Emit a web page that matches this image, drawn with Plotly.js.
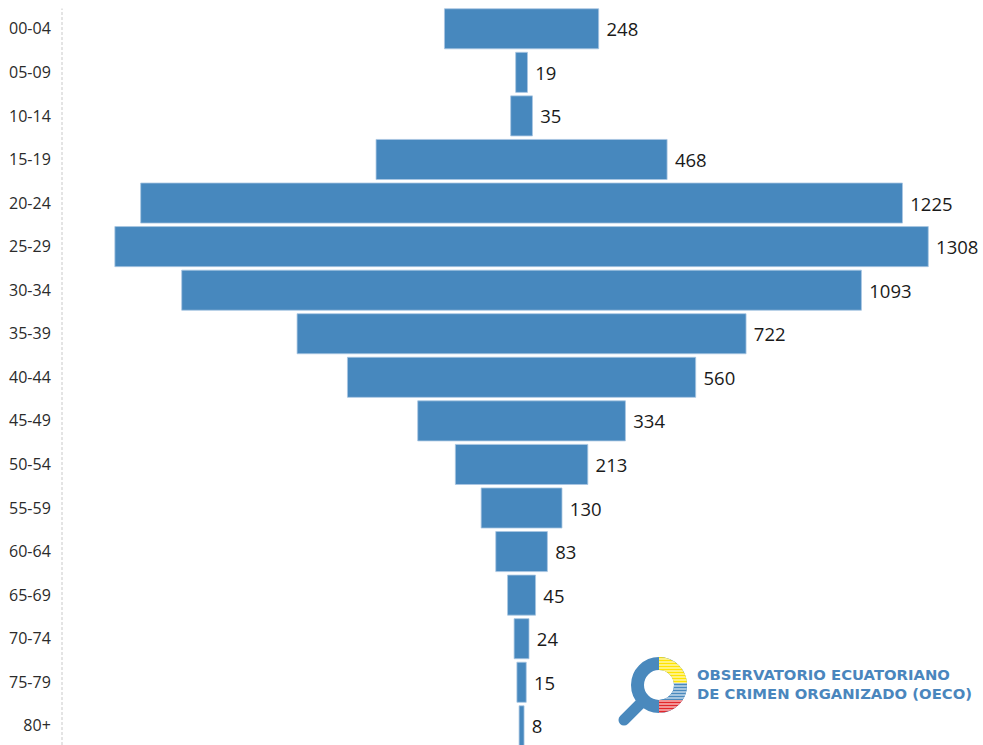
<!DOCTYPE html>
<html>
<head>
<meta charset="utf-8">
<script src="https://cdn.plot.ly/plotly-3.0.1.min.js"></script>
<style>html,body{margin:0;padding:0;background:#fff;}#chart{width:983px;height:745px;}</style>
</head>
<body>
<div id="chart"></div>
<script>
const ageGroups = ["00-04","05-09","10-14","15-19","20-24","25-29","30-34","35-39","40-44","45-49","50-54","55-59","60-64","65-69","70-74","75-79","80+"];
const counts = [248,19,35,468,1225,1308,1093,722,560,334,213,130,83,45,24,15,8];
const logoLines = ["OBSERVATORIO ECUATORIANO","DE CRIMEN ORGANIZADO (OECO)"];

const BLUE = "#4788be";

let stripes = "";
for (let y = 9; y <= 63; y += 3) stripes += "M44 " + y + "H80";
const iconSvg =
 "<svg xmlns='http://www.w3.org/2000/svg' width='80' height='80' viewBox='0 0 80 80'>" +
 "<defs><clipPath id='c'><path d='M44 7 A28 28 0 0 1 44 63 L44 50 A15 15 0 0 0 44 20 Z'/></clipPath></defs>" +
 "<line x1='25' y1='54' x2='9' y2='70' stroke='#4a89bd' stroke-width='11' stroke-linecap='round'/>" +
 "<circle cx='44' cy='35' r='21.5' fill='none' stroke='#4a89bd' stroke-width='13'/>" +
 "<g clip-path='url(#c)'>" +
 "<rect x='44' y='0' width='40' height='33' fill='#ffe400'/>" +
 "<rect x='44' y='33' width='40' height='17' fill='#4a89bd'/>" +
 "<rect x='44' y='50' width='40' height='20' fill='#e3262b'/>" +
 "<path d='" + stripes + "' stroke='#ffffff' stroke-width='1'/>" +
 "</g></svg>";
const iconUri = "data:image/svg+xml;charset=utf-8," + encodeURIComponent(iconSvg);

const trace = {
  type: "funnel",
  y: ageGroups,
  x: counts,
  orientation: "h",
  marker: { color: BLUE, line: { color: "#a9c7e2", width: 0.8 } },
  connector: { visible: false },
  textposition: "outside",
  texttemplate: "\u00a0%{value}",
  textfont: { family: "Open Sans, sans-serif", size: 18.5, color: "#1a1a1a" },
  cliponaxis: false,
  hoverinfo: "none"
};

const layout = {
  width: 983,
  height: 745,
  margin: { l: 62, r: 0, t: 7, b: 0 },
  paper_bgcolor: "#ffffff",
  plot_bgcolor: "#ffffff",
  showlegend: false,
  funnelgap: 0.08,
  xaxis: { visible: false, range: [-739, 742], fixedrange: true },
  yaxis: {
    type: "category",
    range: [16.44, -0.5],
    autorange: false,
    showgrid: false,
    zeroline: false,
    showline: false,
    ticks: "outside",
    ticklen: 7,
    tickcolor: "rgba(0,0,0,0)",
    tickfont: { family: "Open Sans, sans-serif", size: 16, color: "#2b2b2b" }
  },
  shapes: [{
    type: "line", xref: "paper", yref: "paper",
    x0: 0, x1: 0, y0: 0, y1: 0.998,
    line: { color: "#d3d3d3", width: 1.2, dash: "3px,2px" }
  }],
  images: [{
    source: iconUri,
    xref: "paper", yref: "paper",
    x: (615 - 62) / 921, y: (745 - 650) / 738,
    sizex: 80 / 921, sizey: 80 / 738,
    xanchor: "left", yanchor: "top",
    sizing: "stretch", layer: "above"
  }],
  annotations: [{
    xref: "paper", yref: "paper",
    x: (695 - 62) / 921, y: (745 - 684) / 738,
    xanchor: "left", yanchor: "middle", align: "left",
    showarrow: false,
    text: "<b>" + logoLines.join("<br>") + "</b>",
    font: { family: "DejaVu Sans, Verdana, sans-serif", size: 14.8, color: "#4a86bd" }
  }]
};

Plotly.newPlot("chart", [trace], layout, { displayModeBar: false, staticPlot: true });
</script>
</body>
</html>
